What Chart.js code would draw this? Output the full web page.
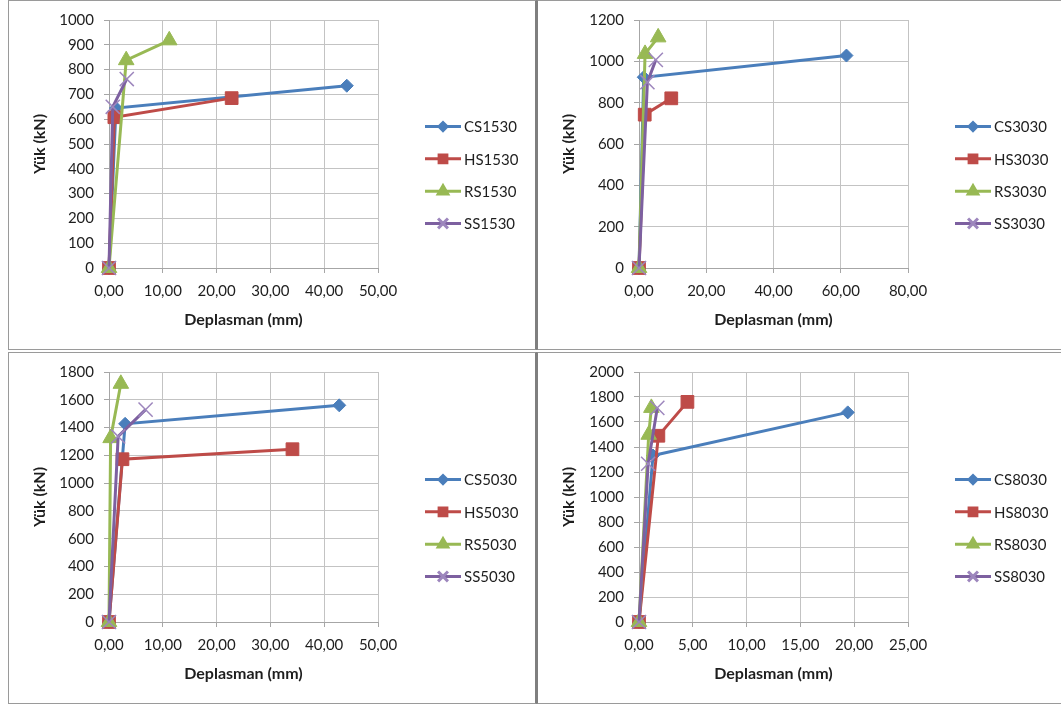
<!DOCTYPE html>
<html lang="tr">
<head>
<meta charset="UTF-8">
<title>Yük - Deplasman</title>
<style>
    body {
        margin: 0;
        background: #fff;
        width: 1061px;
        height: 704px;
        overflow: hidden;
        position: relative;
    }
    .panel {
        position: absolute;
        box-sizing: border-box;
        border: 1px solid #9a9a9a;
        background: #fff;
    }
    .panel canvas { display: block; }
    #p1 { left: 8px; top: 0; width: 529px; height: 350px; border-right: 2px solid #7f7f7f; }
    #p2 { left: 537px; top: 0; width: 526px; height: 350px; border-left: 1px solid #7f7f7f; }
    #p3 { left: 8px; top: 352px; width: 529px; height: 352px; border-right: 2px solid #7f7f7f; }
    #p4 { left: 537px; top: 352px; width: 526px; height: 352px; border-left: 1px solid #7f7f7f; }
</style>
<script src="https://cdn.jsdelivr.net/npm/chart.js"></script>
<script>
// --- values (Deplasman mm / Yük kN) ---
const xCS1530 = [0, 1.3, 44.2];
const yCS1530 = [0, 645, 735];
const xHS1530 = [0, 1.0, 22.8];
const yHS1530 = [0, 608, 685];
const xRS1530 = [0, 3.2, 11.2];
const yRS1530 = [0, 838, 918];
const xSS1530 = [0, 0.7, 3.3];
const ySS1530 = [0, 650, 762];

const xCS3030 = [0, 1.4, 61.7];
const yCS3030 = [0, 923, 1028];
const xHS3030 = [0, 1.7, 9.6];
const yHS3030 = [0, 742, 821];
const xRS3030 = [0, 1.8, 5.7];
const yRS3030 = [0, 1036, 1116];
const xSS3030 = [0, 2.5, 5.0];
const ySS3030 = [0, 899, 1007];

const xCS5030 = [0, 3.0, 42.8];
const yCS5030 = [0, 1427, 1560];
const xHS5030 = [0, 2.5, 34.1];
const yHS5030 = [0, 1172, 1244];
const xRS5030 = [0, 0.3, 2.2];
const yRS5030 = [0, 1324, 1715];
const xSS5030 = [0, 1.7, 6.8];
const ySS5030 = [0, 1336, 1529];

const xCS8030 = [0, 1.3, 19.4];
const yCS8030 = [0, 1332, 1677];
const xHS8030 = [0, 1.8, 4.5];
const yHS8030 = [0, 1490, 1761];
const xRS8030 = [0, 0.9, 1.15];
const yRS8030 = [0, 1498, 1713];
const xSS8030 = [0, 0.85, 1.7];
const ySS8030 = [0, 1266, 1713];

const seriesPrefix = ['CS', 'HS', 'RS', 'SS'];
const specimens = ['1530', '3030', '5030', '8030'];
const xMax = [50, 80, 50, 25];
const xStep = [10, 20, 10, 5];
const yMax = [1000, 1200, 1800, 2000];
const yStep = [100, 200, 200, 200];

const panelSeries = [
    [[xCS1530, yCS1530], [xHS1530, yHS1530], [xRS1530, yRS1530], [xSS1530, ySS1530]],
    [[xCS3030, yCS3030], [xHS3030, yHS3030], [xRS3030, yRS3030], [xSS3030, ySS3030]],
    [[xCS5030, yCS5030], [xHS5030, yHS5030], [xRS5030, yRS5030], [xSS5030, ySS5030]],
    [[xCS8030, yCS8030], [xHS8030, yHS8030], [xRS8030, yRS8030], [xSS8030, ySS8030]]
];

// excel-ish series look
const lineColors = ['#4a7ebb', '#be4b48', '#98b954', '#7d60a0'];
const markerFill = ['#4a7ebb', '#be4b48', '#98b954', '#9d86bd'];
const markerStyle = ['rectRot', 'rect', 'triangle', 'crossRot'];
const markerRadius = [6.5, 9, 9, 10];
const legendRadius = [4, 5.5, 5.5, 7];

Chart.defaults.font.family = 'Lato, "Open Sans", sans-serif';
Chart.defaults.color = '#1e1e1e';

// legend drawn like excel: short line with the marker in the middle
const sideLegend = {
    id: 'sideLegend',
    afterDraw(chart, args, opts) {
        const ctx = chart.ctx;
        const sets = chart.data.datasets;
        const mid = chart.height / 2;
        sets.forEach((ds, i) => {
            const y = mid + (i - (sets.length - 1) / 2) * opts.gap;
            ctx.save();
            ctx.strokeStyle = ds.borderColor;
            ctx.lineWidth = 3;
            ctx.beginPath();
            ctx.moveTo(opts.x, y);
            ctx.lineTo(opts.x + 36, y);
            ctx.stroke();
            ctx.fillStyle = ds.pointBackgroundColor;
            ctx.strokeStyle = ds.pointBorderColor;
            Chart.helpers.drawPoint(ctx, {
                pointStyle: ds.pointStyle,
                radius: ds.legendRadius,
                rotation: 0,
                borderWidth: ds.pointBorderWidth
            }, opts.x + 18, y);
            ctx.fillStyle = '#1e1e1e';
            ctx.font = '15px Lato, "Open Sans", sans-serif';
            ctx.textBaseline = 'middle';
            ctx.fillText(ds.label, opts.x + 39, y + 1);
            ctx.restore();
        });
    }
};

function makeChart(idx, canvasId, leftPad, rightPad, legendX, yWidth) {
    const datasets = panelSeries[idx].map((pair, i) => ({
        label: seriesPrefix[i] + specimens[idx],
        data: pair[0].map((x, k) => ({ x: x, y: pair[1][k] })),
        showLine: true,
        borderColor: lineColors[i],
        borderWidth: 3,
        pointStyle: markerStyle[i],
        pointRadius: markerRadius[i],
        pointHoverRadius: markerRadius[i],
        pointBackgroundColor: markerFill[i],
        pointBorderColor: markerFill[i],
        pointBorderWidth: i === 3 ? 1.5 : 1,
        legendRadius: legendRadius[i],
        order: 4 - i,
        clip: false
    }));

    const ctx = document.getElementById(canvasId).getContext('2d');
    return new Chart(ctx, {
        type: 'scatter',
        data: { datasets: datasets },
        options: {
            responsive: false,
            animation: false,
            layout: {
                padding: { left: leftPad, top: 18, right: rightPad, bottom: 16 }
            },
            plugins: {
                legend: { display: false },
                tooltip: { enabled: false },
                sideLegend: { x: legendX, gap: 32.3 }
            },
            scales: {
                x: {
                    type: 'linear',
                    min: 0,
                    max: xMax[idx],
                    ticks: {
                        stepSize: xStep[idx],
                        padding: 9,
                        font: { size: 15 },
                        callback: v => v.toFixed(2).replace('.', ',')
                    },
                    grid: { color: '#c3c3c3', tickColor: '#a6a6a6', tickLength: 5 },
                    border: { color: '#a6a6a6' },
                    title: {
                        display: true,
                        text: 'Deplasman (mm)',
                        font: { size: 16, weight: 'bold' },
                        color: '#1e1e1e'
                    },
                    afterFit: s => { s.height = 65; }
                },
                y: {
                    min: 0,
                    max: yMax[idx],
                    ticks: {
                        stepSize: yStep[idx],
                        padding: 10,
                        font: { size: 15 },
                        callback: v => String(v)
                    },
                    grid: { color: '#c3c3c3', tickColor: '#a6a6a6', tickLength: 5 },
                    border: { color: '#a6a6a6' },
                    title: {
                        display: true,
                        text: 'Yük (kN)',
                        font: { size: 16, weight: 'bold' },
                        color: '#1e1e1e'
                    },
                    afterFit: s => { s.width = yWidth; }
                }
            }
        },
        plugins: [sideLegend]
    });
}

window.onload = function () {
    makeChart(0, 'c1', 17, 157, 416, 83);
    makeChart(1, 'c2', 17, 154, 417, 84);
    makeChart(2, 'c3', 17, 157, 416, 83);
    makeChart(3, 'c4', 17, 154, 417, 84);
};
</script>
</head>
<body>
<div class="panel" id="p1"><canvas id="c1" width="526" height="348"></canvas></div>
<div class="panel" id="p2"><canvas id="c2" width="524" height="348"></canvas></div>
<div class="panel" id="p3"><canvas id="c3" width="526" height="350"></canvas></div>
<div class="panel" id="p4"><canvas id="c4" width="524" height="350"></canvas></div>
</body>
</html>
